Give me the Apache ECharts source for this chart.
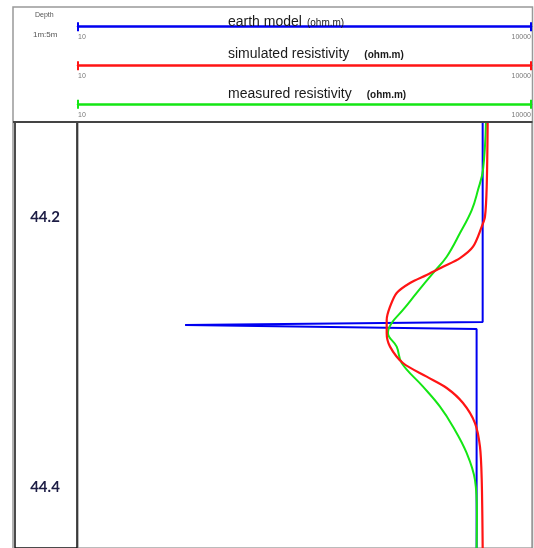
<!DOCTYPE html>
<html>
<head>
<meta charset="utf-8">
<script src="https://cdn.jsdelivr.net/npm/echarts@6/dist/echarts.min.js"></script>
<style>html,body{margin:0;padding:0;background:#fff;}#c{width:534px;height:548px;}</style>
</head>
<body>
<div id="c"></div>
<script>
// ---- data ----
const depthTicks = [44.2, 44.4];
const scaleTicks = [10, 10000];
const scaleTitles = ['earth model', 'simulated resistivity', 'measured resistivity'];
const titleGaps = [' ', '   ', '   '];
const unitLabel = '(ohm.m)';
const headerLabels = ['Depth', '1m:5m'];

const modelDepth = [44.130, 44.2779, 44.2801, 44.2831, 44.445];
const modelRes   = [4721, 4721, 51, 4305, 4305];

const simDepth = [44.130, 44.1778, 44.2000, 44.2074, 44.2222, 44.2306, 44.2370, 44.2431, 44.2490, 44.2564, 44.2666, 44.2764, 44.2860, 44.2961, 44.3082, 44.3183, 44.3267, 44.3378, 44.3526, 44.3701, 44.3947, 44.445];
const simRes   = [5095, 5020, 4890, 4654, 4077, 3344, 2581, 2014, 1563, 1276, 1153, 1096, 1096, 1153, 1404, 2014, 2731, 3500, 4199, 4531, 4654, 4721];

const measDepth = [44.130, 44.1655, 44.1803, 44.1951, 44.2121, 44.2296, 44.2417, 44.2564, 44.2690, 44.2786, 44.2860, 44.2961, 44.3082, 44.3257, 44.3405, 44.3553, 44.3747, 44.3947, 44.4191, 44.445];
const measRes   = [4966, 4743, 4395, 3998, 3344, 2731, 2218, 1730, 1404, 1183, 1117, 1276, 1377, 1905, 2466, 3006, 3698, 4199, 4326, 4305];

const colors = ['#0000f0', '#ff1414', '#14e614'];
const sansFont = "'Liberation Sans', Arial, sans-serif";

const pairs = (r, d) => r.map((v, i) => [v, d[i]]);

const chart = echarts.init(document.getElementById('c'), null, {renderer: 'canvas'});

const lineY = [26.7, 65.7, 104.3];
const titleTop = [13, 45, 85];

const grids = [
  {left: 78, right: 2, top: 122, bottom: 0, show: true, borderColor: '#777', borderWidth: 1},
  {left: 15, width: 62, top: 122, bottom: -5, show: true, borderColor: '#111', borderWidth: 1.5}
];
lineY.forEach(y => grids.push({left: 78, right: 2, top: y, height: 0}));

const xAxes = [
  {gridIndex: 0, type: 'log', logBase: 10, min: 10, max: 10000, show: false},
  {gridIndex: 1, type: 'value', show: false}
];
const yAxes = [
  {gridIndex: 0, type: 'value', inverse: true, min: 44.13, max: 44.445,
   axisLine: {show: false}, axisTick: {show: false}, splitLine: {show: false},
   axisLabel: {customValues: depthTicks, margin: 33, align: 'center', fontSize: 15, fontWeight: 'bold',
     color: '#1c1c44', fontFamily: 'Lato, sans-serif', formatter: v => v.toFixed(1)}},
  {gridIndex: 1, type: 'value', show: false}
];
lineY.forEach((y, i) => {
  xAxes.push({gridIndex: 2 + i, type: 'log', logBase: 10, min: 10, max: 10000, position: 'bottom',
    axisLine: {show: true, lineStyle: {color: colors[i], width: 2.5}, symbol: ['rect', 'rect'], symbolSize: [9, 2]},
    axisTick: {show: false}, splitLine: {show: false},
    axisLabel: {customValues: scaleTicks, margin: 7, fontSize: 7, color: '#777', alignMinLabel: 'left', alignMaxLabel: 'right',
      formatter: v => String(Math.round(v))}});
  yAxes.push({gridIndex: 2 + i, type: 'value', show: false});
});

const titles = [
  {text: headerLabels[0], left: 35, top: 12, padding: 0, textStyle: {fontSize: 7, fontWeight: 'normal', color: '#555', fontFamily: sansFont}},
  {text: headerLabels[1], left: 33, top: 31, padding: 0, textStyle: {fontSize: 8, fontWeight: 'normal', color: '#555', fontFamily: sansFont}}
];
scaleTitles.forEach((t, i) => {
  titles.push({text: '{a|' + t + '}' + titleGaps[i] + '{b|' + unitLabel + '}', left: 228, top: titleTop[i], padding: 0,
    textStyle: {fontWeight: 'normal', rich: {
      a: {fontSize: 14, fontWeight: 'normal', color: '#1a1a1a', fontFamily: sansFont},
      b: {fontSize: 10, fontWeight: i === 0 ? 'normal' : 'bold', color: '#1a1a1a', fontFamily: sansFont, padding: [2, 0, 0, 0]}}}});
});

chart.setOption({
  animation: false,
  backgroundColor: '#fff',
  title: titles,
  grid: grids,
  xAxis: xAxes,
  yAxis: yAxes,
  graphic: [
    {type: 'rect', shape: {x: 13, y: 7, width: 519.5, height: 560}, style: {fill: 'none', stroke: '#999', lineWidth: 1.5}, z: 0},
    {type: 'line', shape: {x1: 13, y1: 122, x2: 532.5, y2: 122}, style: {stroke: '#444', lineWidth: 2}, z: 10}
  ],
  series: [
    {type: 'line', xAxisIndex: 0, yAxisIndex: 0, data: pairs(modelRes, modelDepth), showSymbol: false,
     lineStyle: {color: colors[0], width: 2}, z: 2},
    {type: 'line', xAxisIndex: 0, yAxisIndex: 0, data: pairs(measRes, measDepth), showSymbol: false, smooth: 0.4,
     lineStyle: {color: colors[2], width: 2}, z: 3},
    {type: 'line', xAxisIndex: 0, yAxisIndex: 0, data: pairs(simRes, simDepth), showSymbol: false, smooth: 0.3,
     lineStyle: {color: colors[1], width: 2.2}, z: 4}
  ]
});
</script>
</body>
</html>
